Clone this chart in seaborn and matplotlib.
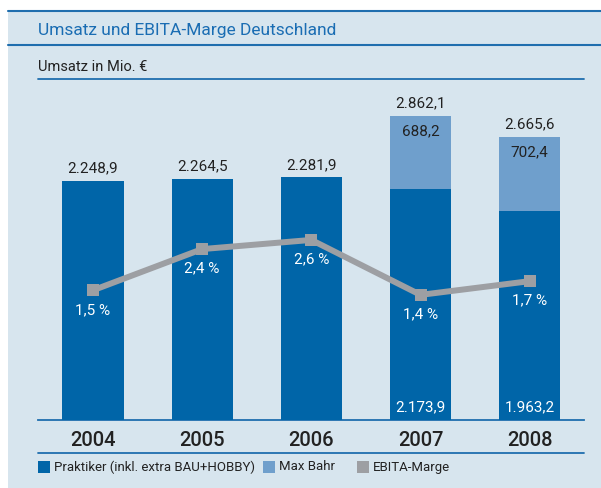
import numpy as np
import pandas as pd
import seaborn as sns
import matplotlib.pyplot as plt
from matplotlib.patches import Rectangle
from matplotlib.lines import Line2D

years = ["2004", "2005", "2006", "2007", "2008"]
praktiker = [2248.9, 2264.5, 2281.9, 2173.9, 1963.2]
max_bahr = [0.0, 0.0, 0.0, 688.2, 702.4]
ebita = [1.5, 2.4, 2.6, 1.4, 1.7]

total_labels = ["2.248,9", "2.264,5", "2.281,9", "2.862,1", "2.665,6"]
praktiker_labels = ["", "", "", "2.173,9", "1.963,2"]
max_bahr_labels = ["", "", "", "688,2", "702,4"]
ebita_labels = ["1,5 %", "2,4 %", "2,6 %", "1,4 %", "1,7 %"]

dark_blue = "#0065a8"
light_blue = "#6f9fcc"
grey = "#9d9fa3"
bg = "#d7e5ee"
line_blue = "#1f6eae"

sns.set_style("white")
plt.rcParams['font.family'] = ['Roboto', 'DejaVu Sans']

W, H = 601, 488
fig = plt.figure(figsize=(W / 100, H / 100), dpi=100)
fig.patch.set_facecolor("white")

def fx(px):
    return px / W

def fy(py):
    return 1 - py / H

# panel background and header lines
fig.patches.append(Rectangle((fx(8), 0), 1 - fx(8), fy(10), transform=fig.transFigure,
                             facecolor=bg, edgecolor="none", zorder=-5))
fig.lines.append(Line2D([fx(8), 1], [fy(11), fy(11)], transform=fig.transFigure, color=line_blue, lw=1.5))
fig.lines.append(Line2D([fx(8), 1], [fy(45), fy(45)], transform=fig.transFigure, color=line_blue, lw=1.5))
fig.lines.append(Line2D([fx(38), fx(584)], [fy(79), fy(79)], transform=fig.transFigure, color=line_blue, lw=1.3))
fig.lines.append(Line2D([fx(38), fx(584)], [fy(453), fy(453)], transform=fig.transFigure, color=line_blue, lw=1.3))

fig.text(fx(38), fy(30), "Umsatz und EBITA-Marge Deutschland", color="#1a6db3",
         fontsize=12.5, va="center", ha="left")
fig.text(fx(38), fy(67), "Umsatz in Mio. €", color="#222222", fontsize=10.5, va="center", ha="left")

# main axes: baseline at y=420 px, top at y=90 px
ax = fig.add_axes([fx(38), fy(420), fx(584) - fx(38), (420 - 90) / H])
ax.set_facecolor("none")

df = pd.DataFrame({"Jahr": years, "Praktiker": praktiker, "MaxBahr": max_bahr})
df["Gesamt"] = df["Praktiker"] + df["MaxBahr"]

sns.barplot(data=df, x="Jahr", y="Gesamt", color=light_blue, width=0.56,
            saturation=1, linewidth=0, edgecolor="none", ax=ax, zorder=2)
sns.barplot(data=df, x="Jahr", y="Praktiker", color=dark_blue, width=0.56,
            saturation=1, linewidth=0, edgecolor="none", ax=ax, zorder=3)

ax.set_xlim(-0.503, 4.497)
ax.set_ylim(0, 330 / 0.1063)
for s in ["top", "right", "left"]:
    ax.spines[s].set_visible(False)
ax.spines["bottom"].set_color(line_blue)
ax.spines["bottom"].set_linewidth(1.3)
ax.set_xlabel("")
ax.set_ylabel("")
ax.set_yticks([])
ax.tick_params(axis="x", length=0, pad=8, labelsize=14.5, labelcolor="#222222")
for t in ax.get_xticklabels():
    t.set_fontweight(500)

for i in range(len(years)):
    tot = df["Gesamt"][i]
    ax.annotate(total_labels[i], (i, tot), xytext=(0, 4), textcoords="offset points",
                ha="center", va="bottom", fontsize=11, color="#222222", zorder=5)
    if max_bahr_labels[i]:
        ax.annotate(max_bahr_labels[i], (i, tot), xytext=(0, -6), textcoords="offset points",
                    ha="center", va="top", fontsize=11, color="#222222", zorder=5)
    if praktiker_labels[i]:
        ax.annotate(praktiker_labels[i], (i, 0), xytext=(0, 4), textcoords="offset points",
                    ha="center", va="bottom", fontsize=11, color="white", zorder=5)

# EBITA margin on a secondary scale
ax2 = ax.twinx()
ax2.set_ylim(-61 / 45.8, (330 - 61) / 45.8)
ax2.set_axis_off()
sns.lineplot(x=np.arange(len(years)), y=ebita, color=grey, lw=4.3, marker="s",
             markersize=8.5, markeredgewidth=0, ax=ax2, zorder=4)
for i, v in enumerate(ebita):
    ax2.annotate(ebita_labels[i], (i, v), xytext=(0, -9), textcoords="offset points",
                 ha="center", va="top", fontsize=11, color="white")

# legend row
legend_items = [(38, dark_blue, "Praktiker (inkl. extra BAU+HOBBY)"),
                (263, light_blue, "Max Bahr"),
                (357, grey, "EBITA-Marge")]
for x0, c, lab in legend_items:
    fig.patches.append(Rectangle((fx(x0), fy(473)), fx(12), 12 / H, transform=fig.transFigure,
                                 facecolor=c, edgecolor="none"))
    fig.text(fx(x0 + 16), fy(467), lab, fontsize=9.5, color="#222222", va="center", ha="left")

fig.savefig("out.png", dpi=100, facecolor=fig.get_facecolor())
